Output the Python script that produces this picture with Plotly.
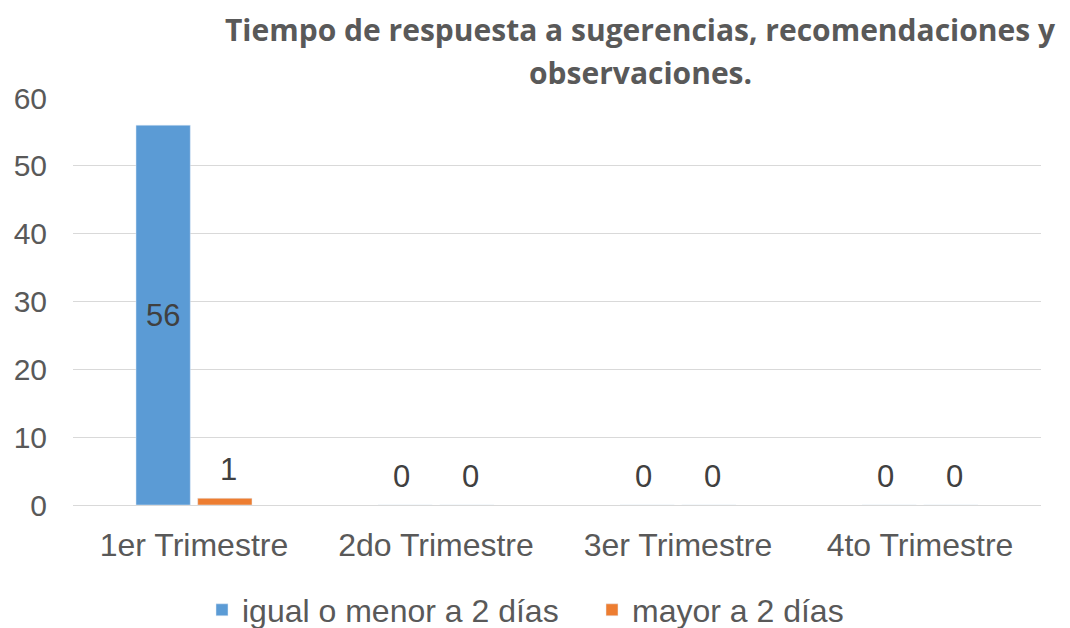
import plotly.graph_objects as go

trimestres = ["1er Trimestre", "2do Trimestre", "3er Trimestre", "4to Trimestre"]
igual_menor = [56, 0, 0, 0]
mayor = [1, 0, 0, 0]
series_names = ["igual o menor a 2 días", "mayor a 2 días"]
colores = ["#5B9BD5", "#ED7D31"]
y_ticks = [0, 10, 20, 30, 40, 50, 60]
titulo = ["Tiempo de respuesta a sugerencias, recomendaciones y", "observaciones."]

TXT = "#595959"
LBL = "#404040"
FONT = "Liberation Sans, Arial, sans-serif"

# la página añade un margen de 8 px, así que se compensa aquí
L, T, W, H = 65, 90, 968, 407

fig = go.Figure()
fig.add_trace(go.Bar(
    x=trimestres, y=igual_menor, name=series_names[0], marker_color=colores[0],
    text=[str(v) if v >= 10 else "" for v in igual_menor],
    textposition="inside", insidetextanchor="middle",
    textfont=dict(size=31, color=LBL, family=FONT),
))
fig.add_trace(go.Bar(
    x=trimestres, y=mayor, name=series_names[1], marker_color=colores[1],
))

# etiquetas de valor por encima de las barras pequeñas
annotations = []
for vals, shift in [(igual_menor, -34.5), (mayor, 34.5)]:
    for cat, v in zip(trimestres, vals):
        if v >= 10:
            continue
        annotations.append(dict(
            x=cat, y=v, xref="x", yref="y", text=str(v), showarrow=False,
            xshift=shift, yshift=29, yanchor="middle",
            font=dict(size=31, color=LBL, family=FONT),
        ))

# título en dos líneas
for linea, py in zip(titulo, [22, 64]):
    annotations.append(dict(
        text=f"<b>{linea}</b>",
        x=(632 - L) / W, y=1 + (T - py) / H, xref="paper", yref="paper",
        xanchor="center", yanchor="middle", showarrow=False,
        font=dict(family="Open Sans, sans-serif", size=30, color=TXT),
    ))

fig.update_layout(
    width=1070, height=628,
    margin=dict(l=L, r=1070 - L - W, t=T, b=628 - T - H, autoexpand=False),
    paper_bgcolor="white", plot_bgcolor="white",
    font=dict(family=FONT, color=TXT, size=26),
    barmode="group", bargap=0.49, bargroupgap=0.12,
    showlegend=True,
    legend=dict(
        orientation="h", x=(194 - L) / W, xanchor="left", yref="container",
        y=1 - 602 / 628, yanchor="middle",
        font=dict(size=32, color=TXT, family=FONT), itemwidth=30,
        entrywidth=345, traceorder="normal",
    ),
    annotations=annotations,
)
fig.update_xaxes(showgrid=False, showline=True, linecolor="#D9D9D9", linewidth=1,
                 ticks="", tickfont=dict(size=32, color=TXT), automargin=False,
                 ticklabelstandoff=12)
fig.update_yaxes(range=[0, 60], tickvals=y_ticks, showgrid=True, gridcolor="#D9D9D9",
                 gridwidth=1, zeroline=False, showline=False, ticks="",
                 tickfont=dict(size=30, color=TXT), ticklabelstandoff=25,
                 automargin=False)

fig.write_html("out.html")
